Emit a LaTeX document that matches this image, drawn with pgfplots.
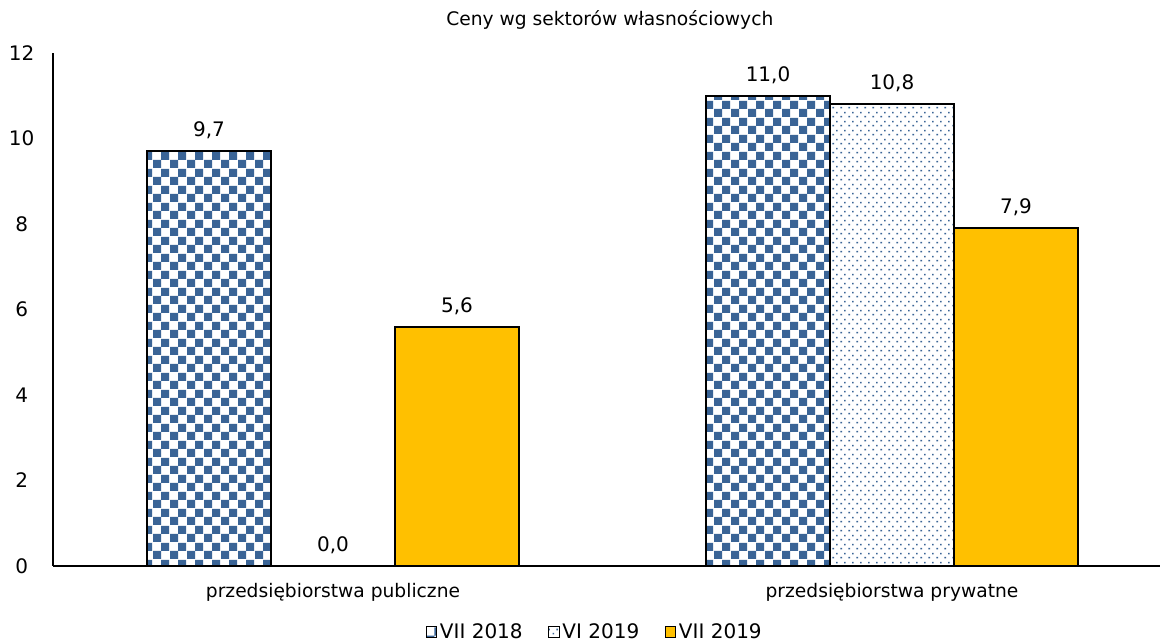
\documentclass[border=0pt]{standalone}
\usepackage{pgfplots}
\pgfplotsset{compat=1.18}
\usepackage{fontspec}
\setmainfont{DejaVu Sans}
\usetikzlibrary{patterns}
\definecolor{cblue}{HTML}{3A6496}
\definecolor{cyell}{HTML}{FFC000}
\pgfdeclarepatternformonly{checker}{\pgfqpoint{0pt}{0pt}}{\pgfqpoint{12.8pt}{12.8pt}}{\pgfqpoint{12.8pt}{12.8pt}}{%
  \pgfpathrectangle{\pgfqpoint{0pt}{0pt}}{\pgfqpoint{6.4pt}{6.4pt}}%
  \pgfpathrectangle{\pgfqpoint{6.4pt}{6.4pt}}{\pgfqpoint{6.4pt}{6.4pt}}%
  \pgfusepath{fill}}
\pgfdeclarepatternformonly{sparsedots}{\pgfqpoint{0pt}{0pt}}{\pgfqpoint{6pt}{6.4pt}}{\pgfqpoint{6pt}{6.4pt}}{%
  \pgfpathrectangle{\pgfqpoint{0.4pt}{0.4pt}}{\pgfqpoint{1.3pt}{1.3pt}}%
  \pgfpathrectangle{\pgfqpoint{3.4pt}{3.6pt}}{\pgfqpoint{1.3pt}{1.3pt}}%
  \pgfusepath{fill}}
\pgfplotstableread{
x y
0 9.7
1 11.0
}\tA
\pgfplotstableread{
x y
1 10.8
}\tB
\pgfplotstableread{
x y
0 5.6
1 7.9
}\tC
\begin{document}
\begin{tikzpicture}
\begin{axis}[
  name=ax,
  scale only axis,
  width=830.25pt, height=384.75pt,
  ybar, bar width=92.5pt,
  xmin=-0.5009, xmax=1.4794,
  ymin=0, ymax=12,
  ytick={0,2,...,12},
  xtick={0,1},
  xticklabels={przedsiębiorstwa publiczne, przedsiębiorstwa prywatne},
  axis x line*=bottom, axis y line*=left,
  axis line style={line width=0.8pt, -},
  major tick length=0pt,
  xticklabel style={font=\fontsize{14pt}{16pt}\selectfont, anchor=center, yshift=-19.5pt},
  yticklabel style={font=\fontsize{15pt}{17pt}\selectfont, anchor=center, xshift=-23.5pt},
  /pgf/number format/assume math mode=true,
  title={Ceny wg sektorów własnościowych},
  title style={font=\fontsize{14pt}{16pt}\selectfont, at={(0.503,1)}, anchor=center, yshift=18.75pt},
  nodes near coords,
  nodes near coords style={font=\fontsize{15pt}{17pt}\selectfont, anchor=center, yshift=15.5pt, /pgf/number format/fixed, /pgf/number format/fixed zerofill, /pgf/number format/precision=1, /pgf/number format/use comma, /pgf/number format/assume math mode=true},
  legend columns=3,
  legend style={draw=none, at={(0.4896,-0.1287)}, anchor=center, font=\fontsize{15pt}{17pt}\selectfont, /tikz/every even column/.append style={column sep=17pt}},
  legend image code/.code={\draw[#1, line width=0.8pt] (0pt,-4pt) rectangle (8pt,4pt);},
  enlarge y limits=false,
  clip=false,
]
\addplot[draw=black, line width=1.5pt, fill=white, postaction={pattern=checker, pattern color=cblue}, bar shift=-93pt] table[x=x,y=y]{\tA};
\addplot[draw=black, line width=1.5pt, fill=white, postaction={pattern=sparsedots, pattern color=cblue}, bar shift=0pt] table[x=x,y=y]{\tB};
\addplot[draw=black, line width=1.5pt, fill=cyell, bar shift=93pt] table[x=x,y=y]{\tC};
\addplot[forget plot, draw=none, fill=none, bar shift=0pt] coordinates {(0,0)};
\legend{VII 2018, VI 2019, VII 2019}
\end{axis}
\pgfresetboundingbox
\path ([xshift=-39.75pt,yshift=-58.5pt]ax.south west) rectangle ([yshift=39.75pt]ax.north east);
\end{tikzpicture}
\end{document}
